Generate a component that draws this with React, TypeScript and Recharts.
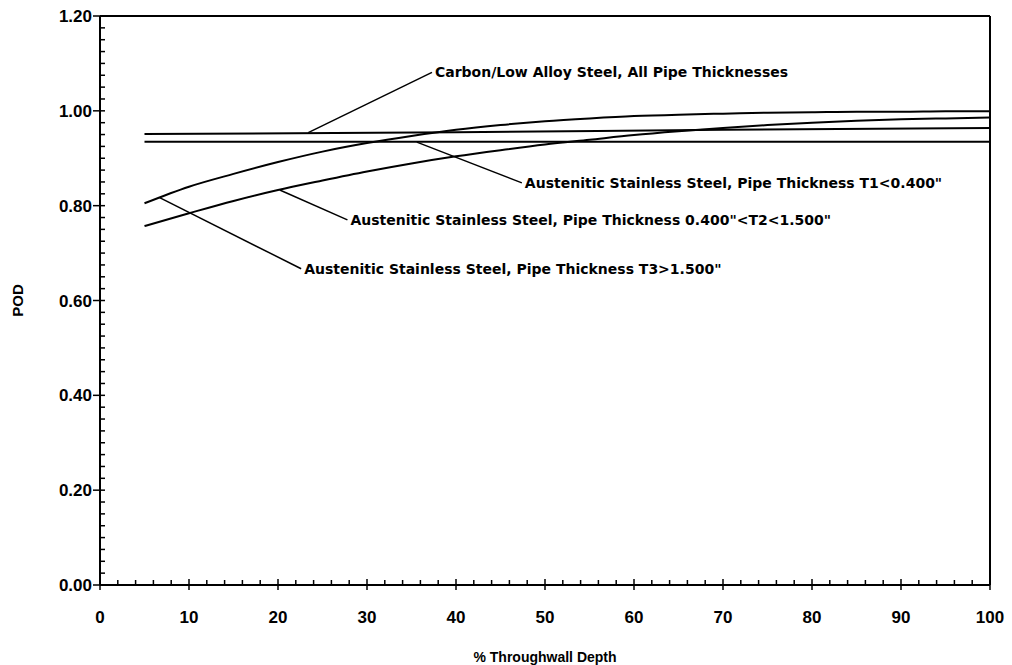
import { LineChart, Line, XAxis, YAxis, ReferenceLine, ReferenceDot } from "recharts";

// x positions (% throughwall depth) where the curves were read
const depth = [5, 10, 15, 20, 25, 30, 35, 40, 45, 50, 55, 60, 65, 70, 75, 80, 85, 90, 95, 100];

// POD values
const carbonDepth = [5, 40, 70, 100];
const carbonPod = [0.951, 0.955, 0.96, 0.964];
const t1Depth = [5, 50, 100];
const t1Pod = [0.935, 0.935, 0.935];
const t2Pod = [0.757, 0.784, 0.81, 0.833, 0.853, 0.872, 0.889, 0.904, 0.917, 0.929, 0.939, 0.949, 0.957, 0.964, 0.97, 0.975, 0.979, 0.982, 0.984, 0.986];
const t3Pod = [0.805, 0.84, 0.867, 0.892, 0.914, 0.932, 0.947, 0.96, 0.97, 0.978, 0.984, 0.989, 0.992, 0.994, 0.996, 0.997, 0.998, 0.998, 0.999, 0.999];

// callouts: text, point on the curve, end of the leader line
const calloutText = [
  "Carbon/Low Alloy Steel, All Pipe Thicknesses",
  'Austenitic Stainless Steel, Pipe Thickness T1<0.400"',
  'Austenitic Stainless Steel, Pipe Thickness 0.400"<T2<1.500"',
  'Austenitic Stainless Steel, Pipe Thickness  T3>1.500"',
];
const calloutFrom = [
  { x: 23.4, y: 0.954 },
  { x: 35.6, y: 0.934 },
  { x: 20.2, y: 0.833 },
  { x: 6.7, y: 0.817 },
];
const calloutTo = [
  { x: 37.3, y: 1.081 },
  { x: 47.4, y: 0.848 },
  { x: 27.8, y: 0.77 },
  { x: 22.6, y: 0.667 },
];

const xTicks = Array.from({ length: 51 }, (_, i) => i * 2);
const yTicks = Array.from({ length: 49 }, (_, i) => i * 0.025);

const toSeries = (xs: number[], ys: number[]) => xs.map((x, i) => ({ x, pod: ys[i] }));

const axisFont = "'Liberation Sans', Arial, sans-serif";
const noteFont = "'DejaVu Sans', Verdana, sans-serif";

const XTick = (props: any) => {
  const { x, y, payload } = props;
  const major = Math.round(payload.value) % 10 === 0;
  return (
    <g>
      <line x1={x} x2={x} y1={y - (major ? 6 : 5)} y2={y + (major ? 5 : 0)} stroke="#000" strokeWidth={1.5} />
      {major && (
        <text x={x} y={y + 38} textAnchor="middle" fontFamily={axisFont} fontWeight={700} fontSize={17} fill="#000">
          {payload.value}
        </text>
      )}
    </g>
  );
};

const YTick = (props: any) => {
  const { x, y, payload } = props;
  const major = Math.round(payload.value / 0.025) % 8 === 0;
  return (
    <g>
      <line x1={x - (major ? 7 : 0)} x2={x + 5} y1={y} y2={y} stroke="#000" strokeWidth={1.5} />
      {major && (
        <text x={x - 8} y={y + 6} textAnchor="end" fontFamily={axisFont} fontWeight={700} fontSize={17} fill="#000">
          {payload.value.toFixed(2)}
        </text>
      )}
    </g>
  );
};

export default function App() {
  const lineProps = {
    dataKey: "pod",
    type: "monotone" as const,
    stroke: "#000",
    strokeWidth: 2,
    dot: false,
    isAnimationActive: false,
  };

  return (
    <div style={{ background: "#fff" }}>
      <style>{"body{margin:0}"}</style>
      <LineChart width={1012} height={665} margin={{ top: 16, right: 22, left: 0, bottom: 0 }}>
        <XAxis
          type="number"
          dataKey="x"
          domain={[0, 100]}
          ticks={xTicks}
          interval={0}
          tickSize={0}
          tickMargin={0}
          tick={<XTick />}
          height={80}
          axisLine={{ stroke: "#000", strokeWidth: 2 }}
          label={{
            content: (p: any) => (
              <text
                x={p.viewBox.x + p.viewBox.width / 2}
                y={p.viewBox.y + 77}
                textAnchor="middle"
                fontFamily={axisFont}
                fontWeight={700}
                fontSize={14}
                fill="#000"
              >
                % Throughwall Depth
              </text>
            ),
          }}
        />
        <YAxis
          type="number"
          domain={[0, 1.2]}
          ticks={yTicks}
          interval={0}
          tickSize={0}
          tickMargin={0}
          tick={<YTick />}
          width={100}
          axisLine={{ stroke: "#000", strokeWidth: 2 }}
          label={{
            content: (p: any) => (
              <text
                x={23}
                y={p.viewBox.y + p.viewBox.height / 2}
                transform={`rotate(-90 23 ${p.viewBox.y + p.viewBox.height / 2})`}
                textAnchor="middle"
                fontFamily={axisFont}
                fontWeight={700}
                fontSize={15}
                fill="#000"
              >
                POD
              </text>
            ),
          }}
        />
        <ReferenceLine y={1.2} stroke="#000" strokeWidth={2} />
        <ReferenceLine x={100} stroke="#000" strokeWidth={2} />

        <Line {...lineProps} data={toSeries(carbonDepth, carbonPod)} />
        <Line {...lineProps} data={toSeries(t1Depth, t1Pod)} />
        <Line {...lineProps} data={toSeries(depth, t2Pod)} />
        <Line {...lineProps} data={toSeries(depth, t3Pod)} />

        {calloutText.map((t, i) => (
          <ReferenceLine
            key={`lead-${i}`}
            segment={[calloutFrom[i], calloutTo[i]]}
            stroke="#000"
            strokeWidth={1.5}
          />
        ))}
        {calloutText.map((t, i) => (
          <ReferenceDot
            key={`note-${i}`}
            x={calloutTo[i].x}
            y={calloutTo[i].y}
            shape={(p: any) => (
              <text x={p.cx + 3} y={p.cy + 5} fontFamily={noteFont} fontWeight={700} fontSize={14} fill="#000">
                {t}
              </text>
            )}
          />
        ))}
      </LineChart>
    </div>
  );
}
